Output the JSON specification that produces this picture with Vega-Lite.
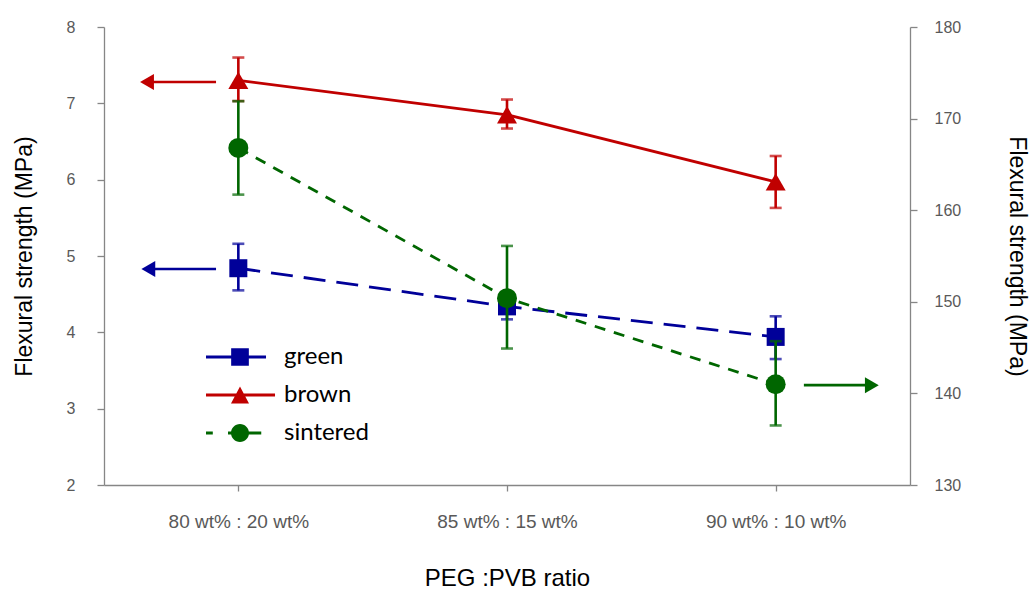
{
  "$schema": "https://vega.github.io/schema/vega-lite/v6.json",
  "width": 806,
  "height": 458,
  "autosize": "none",
  "padding": {"left": 104, "top": 27, "right": 124, "bottom": 104},
  "background": "white",
  "datasets": {
    "pts": [
      {"series": "green", "i": 0, "v": 4.84, "lo": 4.55, "hi": 5.16},
      {"series": "green", "i": 1, "v": 4.34, "lo": 4.17, "hi": 4.52},
      {"series": "green", "i": 2, "v": 3.94, "lo": 3.65, "hi": 4.21},
      {"series": "brown", "i": 0, "v": 7.30, "lo": 7.03, "hi": 7.60},
      {"series": "brown", "i": 1, "v": 6.85, "lo": 6.67, "hi": 7.05},
      {"series": "brown", "i": 2, "v": 5.97, "lo": 5.63, "hi": 6.31},
      {"series": "sintered", "i": 0, "v": 166.8, "lo": 161.7, "hi": 171.9},
      {"series": "sintered", "i": 1, "v": 150.4, "lo": 144.9, "hi": 156.1},
      {"series": "sintered", "i": 2, "v": 141.0, "lo": 136.5, "hi": 145.7}
    ],
    "arrows": [
      {"series": "brown", "start": -0.083, "end": -0.34, "v": 7.28},
      {"series": "green", "start": -0.083, "end": -0.335, "v": 4.83},
      {"series": "sintered", "start": 2.105, "end": 2.358, "v": 140.9}
    ]
  },
  "layer": [
    {
      "layer": [
        {
          "data": {"name": "pts"},
          "transform": [{"filter": "datum.series === 'brown'"}],
          "mark": {"type": "line", "color": "#C00000", "strokeWidth": 2.8},
          "encoding": {
            "x": {"field": "i", "type": "quantitative", "title": "PEG :PVB ratio", "scale": {"domain": [-0.5, 2.5], "nice": false, "zero": false}, "axis": {"values": [0, 1, 2], "labelExpr": "['80 wt% : 20 wt%','85 wt% : 15 wt%','90 wt% : 10 wt%'][datum.value]", "tickSize": 6, "labelFontSize": 19, "titleFontSize": 24, "labelPadding": 21, "titlePadding": 35}},
            "y": {"field": "v", "type": "quantitative", "title": "Flexural strength (MPa)", "scale": {"domain": [2, 8], "nice": false, "zero": false}, "axis": {"orient": "left", "values": [2, 3, 4, 5, 6, 7, 8], "format": "d", "labelPadding": 22, "titlePadding": 30}}
          }
        },
        {
          "data": {"name": "pts"},
          "transform": [{"filter": "datum.series === 'green'"}],
          "mark": {"type": "line", "color": "#000099", "strokeWidth": 2.8, "strokeDash": [22, 11]},
          "encoding": {
            "x": {"field": "i", "type": "quantitative", "title": "PEG :PVB ratio"},
            "y": {"field": "v", "type": "quantitative", "title": "Flexural strength (MPa)"}
          }
        },
        {
          "data": {"name": "pts"},
          "transform": [{"filter": "datum.series === 'brown'"}],
          "mark": {"type": "errorbar", "color": "#C00000", "rule": {"strokeWidth": 2.6}, "ticks": {"size": 12, "thickness": 2.6}},
          "encoding": {
            "x": {"field": "i", "type": "quantitative", "title": "PEG :PVB ratio"},
            "y": {"field": "lo", "type": "quantitative", "title": "Flexural strength (MPa)"},
            "y2": {"field": "hi"}
          }
        },
        {
          "data": {"name": "pts"},
          "transform": [{"filter": "datum.series === 'green'"}],
          "mark": {"type": "errorbar", "color": "#000099", "rule": {"strokeWidth": 2.6}, "ticks": {"size": 12, "thickness": 2.6}},
          "encoding": {
            "x": {"field": "i", "type": "quantitative", "title": "PEG :PVB ratio"},
            "y": {"field": "lo", "type": "quantitative", "title": "Flexural strength (MPa)"},
            "y2": {"field": "hi"}
          }
        },
        {
          "data": {"name": "pts"},
          "transform": [{"filter": "datum.series === 'brown'"}],
          "mark": {"type": "point", "shape": "triangle-up", "filled": true, "opacity": 1, "color": "#C00000", "size": 400},
          "encoding": {
            "x": {"field": "i", "type": "quantitative", "title": "PEG :PVB ratio"},
            "y": {"field": "v", "type": "quantitative", "title": "Flexural strength (MPa)"}
          }
        },
        {
          "data": {"name": "pts"},
          "transform": [{"filter": "datum.series === 'green'"}],
          "mark": {"type": "point", "shape": "square", "filled": true, "opacity": 1, "color": "#000099", "size": 324},
          "encoding": {
            "x": {"field": "i", "type": "quantitative", "title": "PEG :PVB ratio"},
            "y": {"field": "v", "type": "quantitative", "title": "Flexural strength (MPa)"}
          }
        },
        {
          "data": {"name": "arrows"},
          "transform": [{"filter": "datum.series === 'brown'"}],
          "mark": {"type": "rule", "strokeWidth": 2.6, "color": "#C00000"},
          "encoding": {
            "x": {"field": "start", "type": "quantitative", "title": "PEG :PVB ratio"},
            "x2": {"field": "end"},
            "y": {"field": "v", "type": "quantitative", "title": "Flexural strength (MPa)"}
          }
        },
        {
          "data": {"name": "arrows"},
          "transform": [{"filter": "datum.series === 'brown'"}],
          "mark": {"type": "point", "shape": "triangle-left", "filled": true, "opacity": 1, "size": 256, "color": "#C00000"},
          "encoding": {
            "x": {"field": "end", "type": "quantitative", "title": "PEG :PVB ratio"},
            "y": {"field": "v", "type": "quantitative", "title": "Flexural strength (MPa)"}
          }
        },
        {
          "data": {"name": "arrows"},
          "transform": [{"filter": "datum.series === 'green'"}],
          "mark": {"type": "rule", "strokeWidth": 2.6, "color": "#000099"},
          "encoding": {
            "x": {"field": "start", "type": "quantitative", "title": "PEG :PVB ratio"},
            "x2": {"field": "end"},
            "y": {"field": "v", "type": "quantitative", "title": "Flexural strength (MPa)"}
          }
        },
        {
          "data": {"name": "arrows"},
          "transform": [{"filter": "datum.series === 'green'"}],
          "mark": {"type": "point", "shape": "triangle-left", "filled": true, "opacity": 1, "size": 256, "color": "#000099"},
          "encoding": {
            "x": {"field": "end", "type": "quantitative", "title": "PEG :PVB ratio"},
            "y": {"field": "v", "type": "quantitative", "title": "Flexural strength (MPa)"}
          }
        },
        {
          "data": {"name": "pts"},
          "mark": {"type": "point", "filled": true, "opacity": 0},
          "encoding": {
            "shape": {"field": "series", "type": "nominal",
              "scale": {"domain": ["green", "brown", "sintered"], "range": [
                "M-4,-0.18H3.06V0.18H-4Z M-1.04,-1.04H1.04V1.04H-1.04Z",
                "M-4,-0.18H4.12V0.18H-4Z M0,-1L1.06,1H-1.06Z",
                "M-4,-0.18H-3.2V0.18H-4Z M-1.41,-0.18H2.5V0.18H-1.41Z M-1.06,0A1.06,1.06 0 1,1 1.06,0A1.06,1.06 0 1,1 -1.06,0Z"
              ]},
              "legend": {"orient": "none", "legendX": 124, "legendY": 318, "title": null, "symbolSize": 289, "symbolStrokeWidth": 0, "symbolOpacity": 1, "labelFont": "Lato", "labelFontSize": 24, "labelColor": "#000000", "labelOffset": 32, "rowPadding": 14, "padding": 0}},
            "color": {"field": "series", "type": "nominal",
              "scale": {"domain": ["green", "brown", "sintered"], "range": ["#000099", "#C00000", "#006600"]},
              "legend": {"orient": "none", "legendX": 124, "legendY": 318, "title": null, "symbolSize": 289, "symbolStrokeWidth": 0, "symbolOpacity": 1, "labelFont": "Lato", "labelFontSize": 24, "labelColor": "#000000", "labelOffset": 32, "rowPadding": 14, "padding": 0}}
          }
        }
      ]
    },
    {
      "layer": [
        {
          "data": {"name": "pts"},
          "transform": [{"filter": "datum.series === 'sintered'"}],
          "mark": {"type": "line", "color": "#006600", "strokeWidth": 2.8, "strokeDash": [11, 9]},
          "encoding": {
            "x": {"field": "i", "type": "quantitative", "title": "PEG :PVB ratio"},
            "y": {"field": "v", "type": "quantitative", "title": "Flexural strength (MPa)", "scale": {"domain": [130, 180], "nice": false, "zero": false}, "axis": {"orient": "right", "values": [130, 140, 150, 160, 170, 180], "format": "d", "labelPadding": 17, "titlePadding": 44}}
          }
        },
        {
          "data": {"name": "pts"},
          "transform": [{"filter": "datum.series === 'sintered'"}],
          "mark": {"type": "errorbar", "color": "#006600", "rule": {"strokeWidth": 2.6}, "ticks": {"size": 12, "thickness": 2.6}},
          "encoding": {
            "x": {"field": "i", "type": "quantitative", "title": "PEG :PVB ratio"},
            "y": {"field": "lo", "type": "quantitative", "title": "Flexural strength (MPa)"},
            "y2": {"field": "hi"}
          }
        },
        {
          "data": {"name": "pts"},
          "transform": [{"filter": "datum.series === 'sintered'"}],
          "mark": {"type": "point", "shape": "circle", "filled": true, "opacity": 1, "color": "#006600", "size": 400},
          "encoding": {
            "x": {"field": "i", "type": "quantitative", "title": "PEG :PVB ratio"},
            "y": {"field": "v", "type": "quantitative", "title": "Flexural strength (MPa)"}
          }
        },
        {
          "data": {"name": "arrows"},
          "transform": [{"filter": "datum.series === 'sintered'"}],
          "mark": {"type": "rule", "strokeWidth": 2.6, "color": "#006600"},
          "encoding": {
            "x": {"field": "start", "type": "quantitative", "title": "PEG :PVB ratio"},
            "x2": {"field": "end"},
            "y": {"field": "v", "type": "quantitative", "title": "Flexural strength (MPa)"}
          }
        },
        {
          "data": {"name": "arrows"},
          "transform": [{"filter": "datum.series === 'sintered'"}],
          "mark": {"type": "point", "shape": "triangle-right", "filled": true, "opacity": 1, "size": 256, "color": "#006600"},
          "encoding": {
            "x": {"field": "end", "type": "quantitative", "title": "PEG :PVB ratio"},
            "y": {"field": "v", "type": "quantitative", "title": "Flexural strength (MPa)"}
          }
        }
      ]
    }
  ],
  "resolve": {"scale": {"y": "independent"}},
  "config": {
    "view": {"stroke": null},
    "axis": {
      "grid": false,
      "domainColor": "#868686",
      "domainWidth": 1.3,
      "tickColor": "#868686",
      "tickWidth": 1.3,
      "tickSize": 7,
      "labelColor": "#595959",
      "labelFont": "Liberation Sans",
      "labelFontSize": 16,
      "titleFont": "Liberation Sans",
      "titleFontSize": 23,
      "titleFontWeight": "normal",
      "titleColor": "#000000"
    }
  }
}
